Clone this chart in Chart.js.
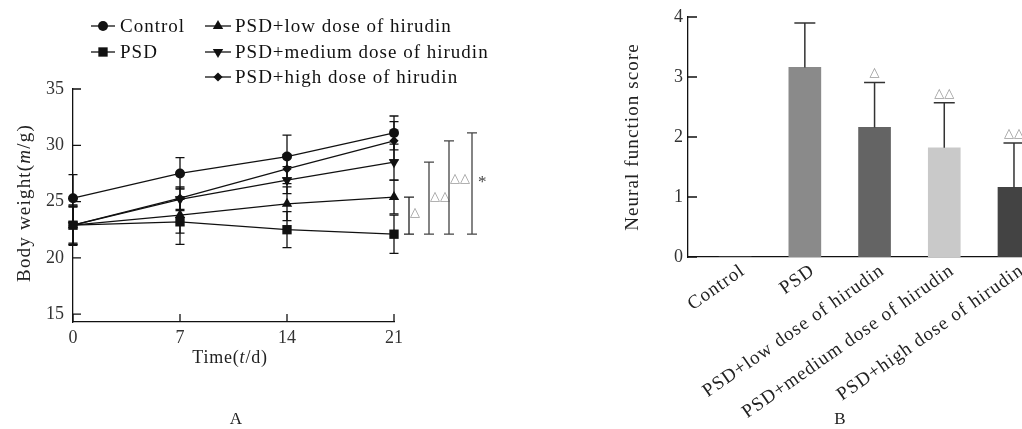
<!DOCTYPE html>
<html>
<head>
<meta charset="utf-8">
<script src="https://cdn.jsdelivr.net/npm/chart.js@4.4.1/dist/chart.umd.min.js"></script>
<style>
  body { margin: 0; background: #fff; overflow: hidden; width: 1022px; height: 429px; position: relative; }
  canvas { position: absolute; top: 0; }
  #chartA { left: 0; }
  #chartB { left: 560px; }
</style>
</head>
<body>
<canvas id="chartA" width="520" height="429"></canvas>
<canvas id="chartB" width="462" height="429"></canvas>
<script>
// ---- data: panel A (body weight) ----
const days = [0, 7, 14, 21];
const dayTicks = [0, 7, 14, 21];
const weightTicks = [15, 20, 25, 30, 35];
const groups = ["Control", "PSD", "PSD+low dose of hirudin", "PSD+medium dose of hirudin", "PSD+high dose of hirudin"];
const weightControl = [25.3, 27.5, 29.0, 31.1];
const weightPSD = [22.9, 23.2, 22.5, 22.1];
const weightLow = [22.9, 23.8, 24.8, 25.4];
const weightMedium = [22.9, 25.2, 26.9, 28.5];
const weightHigh = [22.9, 25.3, 27.9, 30.4];
const sdControl = [2.1, 1.4, 1.9, 1.5];
const sdPSD = [1.7, 2.0, 1.6, 1.7];
const sdLow = [1.8, 1.6, 1.5, 1.5];
const sdMedium = [1.6, 1.0, 1.2, 1.6];
const sdHigh = [1.7, 1.0, 1.3, 1.7];
// day-21 comparisons against PSD: low, medium, high, control
const bracketGroups = [2, 3, 4, 0];
const bracketMarks = ["△", "△△", "△△", "*"];

// ---- data: panel B (neural function score) ----
const scoreMean = [0, 3.16, 2.16, 1.82, 1.16];
const scoreSD = [0, 0.74, 0.75, 0.75, 0.74];
const scoreMarks = ["", "", "△", "△△", "△△"];
const scoreTicks = [0, 1, 2, 3, 4];

const FONT = "'Liberation Serif', 'DejaVu Serif', serif";
const markerStyles = [
  { style: "circle", radius: 5, rotation: 0 },
  { style: "rect", radius: 6.6, rotation: 0 },
  { style: "triangle", radius: 6, rotation: 0 },
  { style: "triangle", radius: 6, rotation: 180 },
  { style: "rectRot", radius: 4.6, rotation: 0 }
];
const barColors = ["#8a8a8a", "#8a8a8a", "#646464", "#c9c9c9", "#434343"];

const weights = [weightControl, weightPSD, weightLow, weightMedium, weightHigh];
const sds = [sdControl, sdPSD, sdLow, sdMedium, sdHigh];

function drawRuns(ctx, runs, x, y, size, rotate, spacing) {
  ctx.save();
  ctx.translate(x, y);
  if (rotate) ctx.rotate(-Math.PI / 2);
  ctx.letterSpacing = (spacing || 0) + "px";
  let total = 0;
  runs.forEach(r => {
    ctx.font = (r.italic ? "italic " : "") + size + "px " + FONT;
    r.w = ctx.measureText(r.t).width;
    total += r.w;
  });
  let cx = -total / 2;
  ctx.textAlign = "left";
  ctx.textBaseline = "middle";
  ctx.fillStyle = "#222";
  runs.forEach(r => {
    ctx.font = (r.italic ? "italic " : "") + size + "px " + FONT;
    ctx.fillText(r.t, cx, 0);
    cx += r.w;
  });
  ctx.restore();
}

function drawMarker(ctx, m, x, y) {
  const r = m.radius;
  ctx.beginPath();
  if (m.style === "circle") {
    ctx.arc(x, y, r, 0, Math.PI * 2);
  } else if (m.style === "rect") {
    const s = r * Math.SQRT1_2;
    ctx.rect(x - s, y - s, 2 * s, 2 * s);
  } else if (m.style === "triangle") {
    const dir = m.rotation ? -1 : 1;
    ctx.moveTo(x, y - dir * r);
    ctx.lineTo(x + r * 0.866, y + dir * r * 0.5);
    ctx.lineTo(x - r * 0.866, y + dir * r * 0.5);
    ctx.closePath();
  } else {
    ctx.moveTo(x, y - r);
    ctx.lineTo(x + r, y);
    ctx.lineTo(x, y + r);
    ctx.lineTo(x - r, y);
    ctx.closePath();
  }
  ctx.fill();
}

// ---- panel A ----
const decorA = {
  id: "decorA",
  beforeDatasetsDraw(chart) {
    const ctx = chart.ctx, xs = chart.scales.x, ys = chart.scales.y;
    ctx.save();
    ctx.strokeStyle = "#111";
    ctx.lineWidth = 1.3;
    weights.forEach((series, g) => {
      series.forEach((v, i) => {
        const px = xs.getPixelForValue(days[i]);
        const top = ys.getPixelForValue(v + sds[g][i]);
        const bot = ys.getPixelForValue(v - sds[g][i]);
        ctx.beginPath();
        ctx.moveTo(px, top); ctx.lineTo(px, bot);
        ctx.moveTo(px - 4.5, top); ctx.lineTo(px + 4.5, top);
        ctx.moveTo(px - 4.5, bot); ctx.lineTo(px + 4.5, bot);
        ctx.stroke();
      });
    });
    ctx.restore();
  },
  afterDraw(chart) {
    const ctx = chart.ctx, xs = chart.scales.x, ys = chart.scales.y;
    const area = chart.chartArea;
    ctx.save();
    // inward ticks
    ctx.strokeStyle = "#111";
    ctx.lineWidth = 1.3;
    ctx.beginPath();
    weightTicks.forEach(t => {
      const py = ys.getPixelForValue(t);
      ctx.moveTo(area.left, py); ctx.lineTo(area.left + 8, py);
    });
    dayTicks.forEach(t => {
      const px = xs.getPixelForValue(t);
      ctx.moveTo(px, area.bottom); ctx.lineTo(px, area.bottom - 8);
    });
    ctx.stroke();

    // significance brackets at day 21
    const last = days.length - 1;
    const baseY = ys.getPixelForValue(weightPSD[last]);
    const offsets = [15, 35, 55, 78];
    bracketGroups.forEach((g, k) => {
      const bx = xs.getPixelForValue(days[last]) + offsets[k];
      const topY = ys.getPixelForValue(weights[g][last]);
      ctx.strokeStyle = k === 0 ? "#222" : "#444";
      ctx.lineWidth = 1.3;
      ctx.beginPath();
      ctx.moveTo(bx, topY); ctx.lineTo(bx, baseY);
      ctx.moveTo(bx - 5, topY); ctx.lineTo(bx + 5, topY);
      ctx.moveTo(bx - 5, baseY); ctx.lineTo(bx + 5, baseY);
      ctx.stroke();
      const mark = bracketMarks[k];
      ctx.fillStyle = mark === "*" ? "#444" : "#9a9a9a";
      ctx.font = (mark === "*" ? "17px " : "13px ") + FONT;
      ctx.textAlign = "left";
      ctx.textBaseline = "middle";
      const ty = k === 0 ? (topY + baseY) / 2 - 3 : (k === 1 ? (topY + baseY) / 2 - 2 : (k === 2 ? topY + 38 : topY + 50));
      ctx.fillText(mark, bx + (mark === "*" ? 6 : 1), ty);
    });

    // legend
    const cols = [[91, 115, 120], [205, 231, 235]];
    const rows = [26, 52, 77];
    const slots = [[0, 0], [0, 1], [1, 0], [1, 1], [1, 2]];
    groups.forEach((name, g) => {
      const c = cols[slots[g][0]], ry = rows[slots[g][1]];
      ctx.strokeStyle = "#111";
      ctx.lineWidth = 1.3;
      ctx.beginPath(); ctx.moveTo(c[0], ry); ctx.lineTo(c[1], ry); ctx.stroke();
      ctx.fillStyle = "#111";
      drawMarker(ctx, markerStyles[g], (c[0] + c[1]) / 2, ry);
      ctx.font = "19px " + FONT;
      ctx.letterSpacing = "1px";
      ctx.textAlign = "left";
      ctx.textBaseline = "middle";
      ctx.fillText(name, c[2], ry + 1);
      ctx.letterSpacing = "0px";
    });
    ctx.restore();

    drawRuns(ctx, [{ t: "Body weight(" }, { t: "m", italic: true }, { t: "/g)" }], 25, 203, 19, true, 1.2);
    drawRuns(ctx, [{ t: "Time(" }, { t: "t", italic: true }, { t: "/d)" }], 230, 358, 18, false, 0.8);
    drawRuns(ctx, [{ t: "A" }], 236, 420, 17, false, 0);
  }
};

new Chart(document.getElementById("chartA"), {
  type: "line",
  data: {
    datasets: groups.map((name, g) => ({
      label: name,
      data: weights[g].map((v, i) => ({ x: days[i], y: v })),
      borderColor: "#111",
      backgroundColor: "#111",
      borderWidth: 1.3,
      pointStyle: markerStyles[g].style,
      pointRadius: markerStyles[g].radius,
      pointRotation: markerStyles[g].rotation,
      pointBorderWidth: 0,
      tension: 0,
      clip: false
    }))
  },
  options: {
    responsive: false,
    devicePixelRatio: 1,
    animation: false,
    layout: { padding: { left: 0, right: 126, top: 89, bottom: 0 } },
    plugins: { legend: { display: false }, tooltip: { enabled: false } },
    scales: {
      x: {
        type: "linear", min: 0, max: 21,
        afterBuildTicks: s => { s.ticks = dayTicks.map(v => ({ value: v })); },
        afterFit: s => { s.height = 107; },
        grid: { display: false, drawTicks: false },
        border: { display: true, color: "#111", width: 1.3 },
        ticks: { color: "#333", padding: 5, font: { family: FONT, size: 18 } }
      },
      y: {
        min: 14.3, max: 35,
        afterBuildTicks: s => { s.ticks = weightTicks.map(v => ({ value: v })); },
        afterFit: s => { s.width = 73; },
        grid: { display: false, drawTicks: false },
        border: { display: true, color: "#111", width: 1.3 },
        ticks: { color: "#333", padding: 9, font: { family: FONT, size: 18 } }
      }
    }
  },
  plugins: [decorA]
});

// ---- panel B ----
const decorB = {
  id: "decorB",
  afterDatasetsDraw(chart) {
    const ctx = chart.ctx, xs = chart.scales.x, ys = chart.scales.y;
    ctx.save();
    scoreMean.forEach((v, i) => {
      if (!scoreSD[i]) return;
      const px = xs.getPixelForValue(i);
      const y0 = ys.getPixelForValue(v);
      const y1 = ys.getPixelForValue(v + scoreSD[i]);
      ctx.strokeStyle = "#333";
      ctx.lineWidth = 1.5;
      ctx.beginPath();
      ctx.moveTo(px, y0); ctx.lineTo(px, y1);
      ctx.moveTo(px - 10.5, y1); ctx.lineTo(px + 10.5, y1);
      ctx.stroke();
      if (scoreMarks[i]) {
        ctx.fillStyle = "#9a9a9a";
        ctx.font = "13px " + FONT;
        ctx.textAlign = "center";
        ctx.textBaseline = "bottom";
        ctx.fillText(scoreMarks[i], px, y1 - 3);
      }
    });
    ctx.restore();
  },
  afterDraw(chart) {
    const ctx = chart.ctx, xs = chart.scales.x, ys = chart.scales.y, area = chart.chartArea;
    ctx.save();
    ctx.strokeStyle = "#111";
    ctx.lineWidth = 1.3;
    ctx.beginPath();
    scoreTicks.forEach(t => {
      const py = ys.getPixelForValue(t);
      ctx.moveTo(area.left, py); ctx.lineTo(area.left + 9, py);
    });
    ctx.stroke();
    // rotated category labels
    ctx.fillStyle = "#222";
    ctx.font = "19px " + FONT;
    ctx.letterSpacing = "1px";
    ctx.textAlign = "right";
    ctx.textBaseline = "middle";
    groups.forEach((name, i) => {
      ctx.save();
      ctx.translate(xs.getPixelForValue(i) + 8, area.bottom + 12);
      ctx.rotate(-35 * Math.PI / 180);
      ctx.fillText(name, 0, 0);
      ctx.restore();
    });
    ctx.restore();
    drawRuns(ctx, [{ t: "Neural function score" }], 73, 137, 19, true, 1.1);
    drawRuns(ctx, [{ t: "B" }], 280, 420, 17, false, 0);
  }
};

new Chart(document.getElementById("chartB"), {
  type: "bar",
  data: {
    datasets: [{
      data: scoreMean.map((v, i) => ({ x: i, y: v })),
      backgroundColor: barColors,
      borderWidth: 0,
      barThickness: 32
    }]
  },
  options: {
    responsive: false,
    devicePixelRatio: 1,
    animation: false,
    layout: { padding: { left: 0, right: 0, top: 17, bottom: 0 } },
    plugins: { legend: { display: false }, tooltip: { enabled: false } },
    scales: {
      x: {
        type: "linear", min: -0.676, max: 4.115, offset: false,
        afterBuildTicks: s => { s.ticks = groups.map((_, i) => ({ value: i })); },
        afterFit: s => { s.height = 172; },
        grid: { display: false, drawTicks: false, offset: false },
        border: { display: true, color: "#111", width: 1.3 },
        ticks: { display: false }
      },
      y: {
        min: 0, max: 4,
        afterBuildTicks: s => { s.ticks = scoreTicks.map(v => ({ value: v })); },
        afterFit: s => { s.width = 128; },
        grid: { display: false, drawTicks: false },
        border: { display: true, color: "#111", width: 1.3 },
        ticks: { color: "#333", padding: 5, font: { family: FONT, size: 18 } }
      }
    }
  },
  plugins: [decorB]
});
</script>
</body>
</html>
